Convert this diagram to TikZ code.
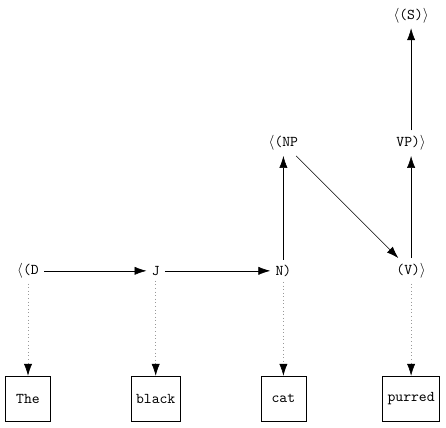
\documentclass[tikz,border=0pt]{standalone}
\usetikzlibrary{arrows.meta}
\begin{document}
\begin{tikzpicture}[
  tag/.style={font=\ttfamily},
  wordbox/.style={draw, font=\ttfamily, minimum width=30pt, minimum height=30pt},
  arr/.style={-{Latex[length=8pt,width=5.5pt]}},
  dotarr/.style={gray!80, dotted, -{Latex[length=8pt,width=5.5pt,color=black]}}
]
\useasboundingbox (-0.658,-0.670) rectangle (9.820,9.363);
% words
\node[wordbox] (the) at (0,0) {The};
\node[wordbox] (black) at (3,0) {black};
\node[wordbox] (cat) at (6,0) {cat};
\node[wordbox] (purred) at (9,0) {purred};
% tags
\node[tag] (d) at (0,3) {$\langle$(D};
\node[tag] (j) at (3,3) {J};
\node[tag] (n) at (6,3) {N)};
\node[tag] (v) at (9,3) {(V)$\rangle$};
\node[tag] (np) at (6,6) {$\langle$(NP};
\node[tag] (vp) at (9,6) {VP)$\rangle$};
\node[tag] (s) at (9,9) {$\langle$(S)$\rangle$};
% dotted
\draw[dotarr] (d) -- (the);
\draw[dotarr] (j) -- (black);
\draw[dotarr] (n) -- (cat);
\draw[dotarr] (v) -- (purred);
% solid
\draw[arr] (d) -- (j);
\draw[arr] (j) -- (n);
\draw[arr] (n) -- (np);
\draw[arr] (np) -- (v);
\draw[arr] (v) -- (vp);
\draw[arr] (vp) -- (s);
\end{tikzpicture}
\end{document}
